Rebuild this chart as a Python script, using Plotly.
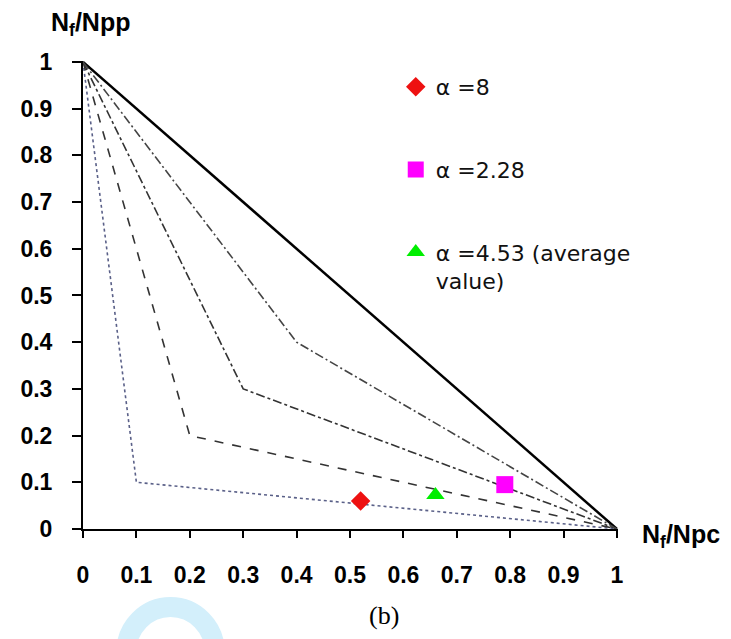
import plotly.graph_objects as go

# ---- data ----
corner_values = [0.1, 0.2, 0.3, 0.4]
line_styles = ["dot", "dash", "dashdot", "9px,3px,2px,3px"]
line_colors = ["#5a6088", "#333333", "#333333", "#444444"]

diag_x = [0, 1]
diag_y = [1, 0]

point_labels = ["α =8", "α =2.28", "α =4.53 (average<br>value)"]
point_x = [0.52, 0.79, 0.66]
point_y = [0.06, 0.095, 0.073]
point_symbols = ["diamond", "square", "triangle-up"]
point_colors = ["#ee1111", "#ff00ff", "#00ee00"]
point_sizes = [15, 17, 16]

tick_vals = [0, 0.1, 0.2, 0.3, 0.4, 0.5, 0.6, 0.7, 0.8, 0.9, 1]
tick_text = ["0", "0.1", "0.2", "0.3", "0.4", "0.5", "0.6", "0.7", "0.8", "0.9", "1"]

# ---- figure ----
fig = go.Figure()

fig.add_trace(go.Scatter(x=diag_x, y=diag_y, mode="lines",
                         line=dict(color="black", width=2.5), showlegend=False,
                         hoverinfo="skip"))

for c, dash, col in zip(corner_values, line_styles, line_colors):
    fig.add_trace(go.Scatter(x=[0, c, 1], y=[1, c, 0], mode="lines",
                             line=dict(color=col, width=1.6, dash=dash),
                             showlegend=False, hoverinfo="skip"))

for i, (lab, px, py, sym, col, sz) in enumerate(zip(point_labels, point_x, point_y,
                                                    point_symbols, point_colors, point_sizes)):
    fig.add_trace(go.Scatter(x=[px], y=[py], mode="markers", name=lab,
                             legendgroup=f"g{i}",
                             marker=dict(symbol=sym, color=col, size=sz, line=dict(width=0)),
                             cliponaxis=False))

# page body has an 8px margin; layout targets below are screen pixels
OFF = 8
W, H = 723, 631
L, R, T, B = 74 - OFF, 113, 61 - OFF, 110
pw, ph = W - L - R, H - T - B

def px2x(p):
    return (p - OFF - L) / pw

def py2y(p):
    return (H - B - (p - OFF)) / ph

axis_font = dict(family="Liberation Sans, Arial", size=23, color="black")

fig.update_layout(
    width=W, height=H,
    margin=dict(l=L, r=R, t=T, b=B),
    paper_bgcolor="white", plot_bgcolor="white",
    font=dict(family="Liberation Sans, Arial", color="black"),
    xaxis=dict(range=[0, 1.002], tickvals=tick_vals, ticktext=[f"<b>{t}</b>" for t in tick_text],
               showgrid=False, zeroline=False, showline=True, linecolor="black", linewidth=2,
               ticks="outside", ticklen=7, tickwidth=2, tickcolor="black",
               tickfont=axis_font, ticklabelstandoff=17),
    yaxis=dict(range=[0, 1.002], tickvals=tick_vals, ticktext=[f"<b>{t}</b>" for t in tick_text],
               showgrid=False, zeroline=False, showline=True, linecolor="black", linewidth=2,
               ticks="outside", ticklen=9, tickwidth=2, tickcolor="black",
               tickfont=axis_font, ticklabelstandoff=15),
    legend=dict(x=px2x(392), y=py2y(66), xanchor="left", yanchor="top",
                bgcolor="rgba(0,0,0,0)",
                font=dict(family="DejaVu Sans", size=22, color="#111"),
                traceorder="grouped", tracegroupgap=51, valign="top", itemwidth=30),
    showlegend=True,
)

fig.add_annotation(text="<b>N<sub>f</sub>/Npp</b>", xref="paper", yref="paper",
                   x=px2x(82), y=py2y(24), xanchor="center", yanchor="middle",
                   showarrow=False,
                   font=dict(family="Liberation Sans, Arial", size=25, color="black"))
fig.add_annotation(text="<b>N<sub>f</sub>/Npc</b>", xref="paper", yref="paper",
                   x=px2x(640), y=py2y(536), xanchor="left", yanchor="middle",
                   showarrow=False,
                   font=dict(family="Liberation Sans, Arial", size=25, color="black"))
fig.add_annotation(text="(b)", xref="paper", yref="paper",
                   x=px2x(380), y=py2y(615), xanchor="center", yanchor="middle",
                   showarrow=False,
                   font=dict(family="Liberation Serif, Times New Roman", size=26, color="black"))

# faint watermark ring
fig.add_shape(type="circle", xref="paper", yref="paper",
              x0=px2x(118), x1=px2x(208), y0=py2y(697), y1=py2y(607),
              line=dict(color="#d3effb", width=20), layer="below")

fig.write_html("out.html")
